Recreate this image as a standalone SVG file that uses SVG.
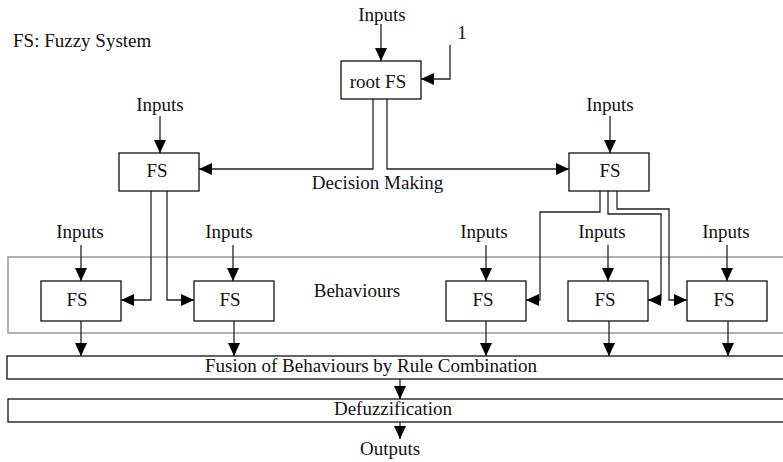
<svg xmlns="http://www.w3.org/2000/svg" width="783" height="462" viewBox="0 0 783 462">
<defs>
<style>
text{font-family:"Liberation Serif","Times New Roman",serif;font-size:19px;fill:#111;}
.c{text-anchor:middle;}
.box{fill:#fff;stroke:#111;stroke-width:1.3;}
.grp{fill:none;stroke:#888;stroke-width:1.3;}
.ln{fill:none;stroke:#222;stroke-width:1.3;}
.ar{fill:none;stroke:#222;stroke-width:1.3;marker-end:url(#ah);}
</style>
<marker id="ah" viewBox="0 0 13 12" refX="13" refY="6" markerWidth="13" markerHeight="12" markerUnits="userSpaceOnUse" orient="auto">
<path d="M0,0L13,6L0,12z" fill="#000"/>
</marker>
</defs>
<rect width="783" height="462" fill="#fff"/>
<text x="13" y="47">FS: Fuzzy System</text>
<rect id="behaviours" class="grp" x="8" y="257" width="790" height="76"/>
<text x="357" y="297" class="c">Behaviours</text>
<text x="377.5" y="189" class="c">Decision Making</text>

<g id="connectors">
<line class="ar" x1="381" y1="24" x2="381" y2="61"/>
<polyline class="ar" points="450,45 450,79 421,79"/>
<polyline class="ar" points="373,99 373,169 199,169"/>
<polyline class="ar" points="387,99 387,169 569,169"/>
<line class="ar" x1="160" y1="116" x2="160" y2="153"/>
<line class="ar" x1="610" y1="116" x2="610" y2="153"/>
<polyline class="ar" points="151,191 151,300 121,300"/>
<polyline class="ar" points="167,191 167,300 194,300"/>
<polyline class="ar" points="600,191 600,212 540,212 540,300 526,300"/>
<polyline class="ar" points="608,191 608,214 661,214 661,300 648,300"/>
<polyline class="ar" points="617,191 617,209 669,209 669,300 687,300"/>
<line class="ar" x1="81" y1="245" x2="81" y2="281"/>
<line class="ar" x1="233" y1="245" x2="233" y2="281"/>
<line class="ar" x1="486" y1="245" x2="486" y2="281"/>
<line class="ar" x1="608" y1="245" x2="608" y2="281"/>
<line class="ar" x1="727" y1="245" x2="727" y2="281"/>
<line class="ar" x1="81" y1="320" x2="81" y2="356"/>
<line class="ar" x1="234" y1="320" x2="234" y2="356"/>
<line class="ar" x1="486" y1="320" x2="486" y2="356"/>
<line class="ar" x1="609" y1="320" x2="609" y2="356"/>
<line class="ar" x1="728" y1="320" x2="728" y2="356"/>
<line class="ar" x1="400" y1="379" x2="400" y2="399"/>
<line class="ar" x1="400" y1="422" x2="400" y2="439"/>
</g>

<text x="382" y="21" class="c">Inputs</text>
<text x="462" y="39" class="c">1</text>
<g id="root">
<rect class="box" x="341" y="61" width="80" height="38"/>
<text x="378" y="88" class="c">root FS</text>
</g>

<text x="160" y="111" class="c">Inputs</text>
<g id="fs-left">
<rect class="box" x="119" y="153" width="80" height="38"/>
<text x="157" y="177" class="c">FS</text>
</g>
<text x="610" y="111" class="c">Inputs</text>
<g id="fs-right">
<rect class="box" x="569" y="153" width="80" height="38"/>
<text x="610" y="177" class="c">FS</text>
</g>

<text x="80" y="238" class="c">Inputs</text>
<text x="229" y="238" class="c">Inputs</text>
<text x="484" y="238" class="c">Inputs</text>
<text x="602" y="238" class="c">Inputs</text>
<text x="726" y="238" class="c">Inputs</text>

<g id="fs1">
<rect class="box" x="41" y="281" width="80" height="40"/>
<text x="77" y="306" class="c">FS</text>
</g>
<g id="fs2">
<rect class="box" x="194" y="281" width="80" height="40"/>
<text x="230" y="306" class="c">FS</text>
</g>
<g id="fs3">
<rect class="box" x="446" y="281" width="80" height="40"/>
<text x="483" y="306" class="c">FS</text>
</g>
<g id="fs4">
<rect class="box" x="568" y="281" width="80" height="40"/>
<text x="605" y="306" class="c">FS</text>
</g>
<g id="fs5">
<rect class="box" x="687" y="281" width="80" height="40"/>
<text x="724" y="306" class="c">FS</text>
</g>

<g id="fusion">
<rect class="box" x="7" y="356" width="790" height="23"/>
<text x="371" y="372" class="c">Fusion of Behaviours by Rule Combination</text>
</g>
<g id="defuzz">
<rect class="box" x="8" y="399" width="790" height="23"/>
<text x="393" y="415" class="c">Defuzzification</text>
</g>
<text x="390" y="455" class="c">Outputs</text>
</svg>
